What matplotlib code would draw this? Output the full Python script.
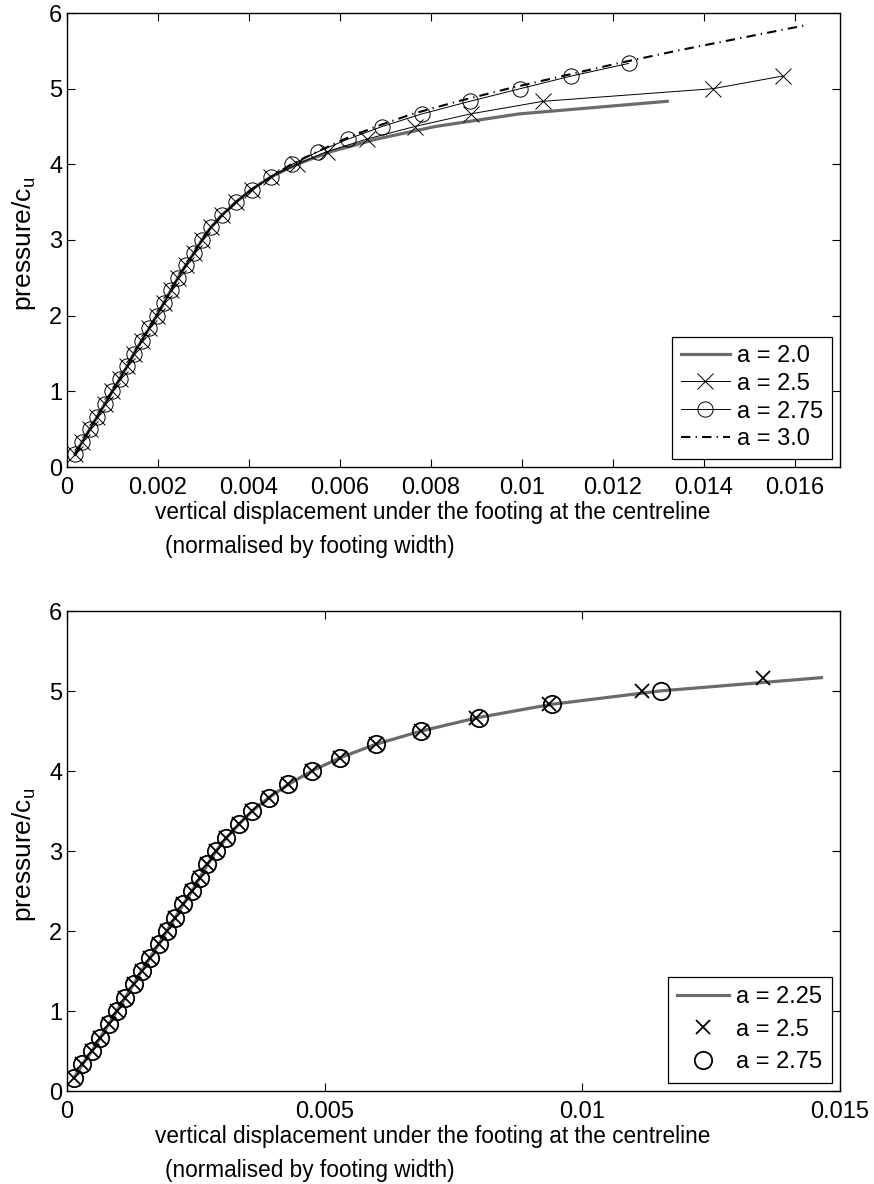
import matplotlib
matplotlib.use("Agg")
import matplotlib.pyplot as plt
from matplotlib.ticker import FuncFormatter

plt.rcParams['font.family'] = ['Liberation Sans', 'DejaVu Sans']
plt.rcParams['mathtext.fontset'] = 'custom'
plt.rcParams['mathtext.rm'] = 'Liberation Sans'
plt.rcParams['mathtext.it'] = 'Liberation Sans'

# load steps (pressure/cu), every 1/6
LOAD = [0.167, 0.333, 0.5, 0.667, 0.833, 1.0, 1.167, 1.333, 1.5, 1.667, 1.833, 2.0,
        2.167, 2.333, 2.5, 2.667, 2.833, 3.0, 3.167, 3.333, 3.5, 3.667, 3.833, 4.0,
        4.167, 4.333, 4.5, 4.667, 4.833, 5.0, 5.167, 5.333, 5.5, 5.667, 5.833]

# top chart: shared early part of all four curves
TOP_COMMON = [0.000176, 0.000337, 0.000505, 0.000667, 0.000835, 0.000996, 0.001165,
              0.001326, 0.001473, 0.00164, 0.001809, 0.00197, 0.002132, 0.002286,
              0.00244, 0.002615, 0.0028, 0.002967, 0.003165, 0.003414, 0.003714,
              0.004059, 0.004484]
TOP_A20 = TOP_COMMON + [0.00505, 0.0058, 0.0068, 0.0081, 0.00995, 0.0132]
TOP_A25 = TOP_COMMON + [0.00506, 0.00571, 0.00659, 0.00765, 0.00888, 0.01047, 0.01421, 0.01574]
TOP_A275 = TOP_COMMON + [0.00495, 0.00552, 0.00618, 0.00693, 0.00781, 0.00886, 0.00997,
                         0.01109, 0.01235]
TOP_A30 = TOP_COMMON + [0.00493, 0.0055, 0.0061, 0.0068, 0.0076, 0.0086, 0.0097, 0.0109,
                        0.0121, 0.0134, 0.0148, 0.0162]

# bottom chart
BOT_COMMON = [0.00014, 0.0003, 0.000484, 0.000646, 0.000808, 0.000969, 0.00113, 0.001292,
              0.001447, 0.001615, 0.001777, 0.001938, 0.002099, 0.002254, 0.002429,
              0.002578, 0.002726, 0.002894, 0.003095, 0.003333, 0.003592, 0.003915,
              0.004296, 0.004748, 0.005304, 0.005988, 0.006874]
BOT_A225 = BOT_COMMON + [0.00797, 0.0094, 0.0115, 0.01464]
BOT_A25 = BOT_COMMON + [0.00793, 0.00936, 0.01115, 0.0135]
BOT_A275 = BOT_COMMON + [0.0080, 0.00941, 0.01152]

W, H = 874, 1184
GRAY = '#6b6b6b'
FS_TICK = 17
FS_LAB = 16.3
FS_YLAB = 19
FS_LEG = 17
XLABEL1 = 'vertical displacement under the footing at the centreline'
XLABEL2 = '(normalised by footing width)'
YLABEL = 'pressure/c$_\\mathrm{u}$'


def fx(px):
    return px / W


def fy(py):
    return 1 - py / H


def style_axes(ax, xmax, xticks):
    ax.set_xlim(0, xmax)
    ax.set_ylim(0, 6)
    ax.set_xticks(xticks)
    ax.set_yticks([0, 1, 2, 3, 4, 5, 6])
    ax.xaxis.set_major_formatter(FuncFormatter(lambda v, p: '%g' % round(v, 6)))
    ax.tick_params(direction='in', length=6, width=0.8, top=True, right=True,
                   labelsize=FS_TICK)
    ax.tick_params(axis='x', pad=7)
    ax.tick_params(axis='y', pad=3.5)
    for s in ax.spines.values():
        s.set_linewidth(1.0)


def add_labels(axis_bottom, axis_mid):
    fig.text(fx(24), fy(axis_mid + 4), YLABEL, rotation=90, fontsize=FS_YLAB,
             ha='center', va='center')
    fig.text(fx(433), fy(axis_bottom + 46), XLABEL1, fontsize=FS_LAB,
             ha='center', va='center')
    fig.text(fx(165), fy(axis_bottom + 80), XLABEL2, fontsize=FS_LAB,
             ha='left', va='center')


fig = plt.figure(figsize=(W / 100, H / 100), dpi=100)

# ---- top chart
ax1 = fig.add_axes([fx(67), fy(467), fx(840) - fx(67), fy(13) - fy(467)])
ax1.plot(TOP_A20, LOAD[:len(TOP_A20)], color=GRAY, lw=2.3, label='a = 2.0')
ax1.plot(TOP_A25, LOAD[:len(TOP_A25)], color='black', lw=0.7, marker='x', ms=11,
         mew=0.7, label='a = 2.5')
ax1.plot(TOP_A275, LOAD[:len(TOP_A275)], color='black', lw=0.7, marker='o', ms=11,
         mew=0.7, mfc='none', label='a = 2.75')
ax1.plot(TOP_A30, LOAD[:len(TOP_A30)], color='black', lw=1.5,
         linestyle=(0, (4.5, 2.5, 0.6, 2.5)), label='a = 3.0')
style_axes(ax1, 0.017, [0, 0.002, 0.004, 0.006, 0.008, 0.01, 0.012, 0.014, 0.016])
leg1 = ax1.legend(loc='lower right', fontsize=FS_LEG, handlelength=2.1, handletextpad=0.3,
                  labelspacing=0.25, borderpad=0.35, borderaxespad=0.35,
                  fancybox=False, framealpha=1, edgecolor='black')
leg1.get_frame().set_linewidth(0.9)
add_labels(467, 240)

# ---- bottom chart
ax2 = fig.add_axes([fx(67), fy(1091), fx(840) - fx(67), fy(611) - fy(1091)])
ax2.plot(BOT_A225, LOAD[:len(BOT_A225)], color=GRAY, lw=2.3, label='a = 2.25')
ax2.plot(BOT_A25, LOAD[:len(BOT_A25)], linestyle='none', color='black', marker='x',
         ms=10, mew=1.3, label='a = 2.5')
ax2.plot(BOT_A275, LOAD[:len(BOT_A275)], linestyle='none', color='black', marker='o',
         ms=12.5, mew=1.3, mfc='none', label='a = 2.75')
style_axes(ax2, 0.015, [0, 0.005, 0.01, 0.015])
leg2 = ax2.legend(loc='lower right', fontsize=FS_LEG, handlelength=2.2, handletextpad=0.3,
                  labelspacing=0.45, borderpad=0.4, borderaxespad=0.35,
                  fancybox=False, framealpha=1, edgecolor='black')
leg2.get_frame().set_linewidth(0.9)
add_labels(1091, 851)

fig.savefig('out.png', dpi=100)
